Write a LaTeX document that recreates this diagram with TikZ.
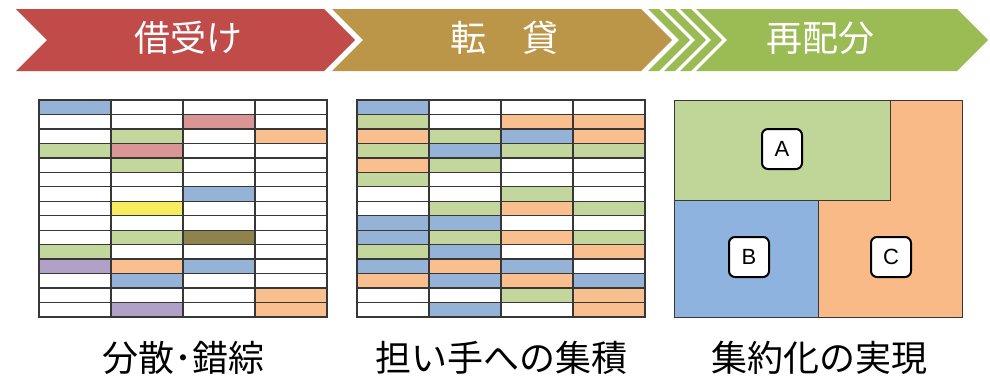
\documentclass[tikz,border=0pt]{standalone}
\usepackage{fontspec}
\newfontfamily\cjk{Noto Sans CJK JP}
\newfontfamily\lat{Liberation Sans}
\definecolor{arrRed}{RGB}{192,75,72}
\definecolor{arrGold}{RGB}{188,150,72}
\definecolor{arrGreen}{RGB}{155,187,85}
\definecolor{cB}{RGB}{149,179,215}
\definecolor{cG}{RGB}{195,214,155}
\definecolor{cR}{RGB}{218,150,148}
\definecolor{cO}{RGB}{250,191,143}
\definecolor{cY}{RGB}{247,236,94}
\definecolor{cK}{RGB}{142,131,76}
\definecolor{cP}{RGB}{177,160,199}
\definecolor{w}{RGB}{255,255,255}
\definecolor{zA}{RGB}{192,213,152}
\definecolor{zB}{RGB}{142,179,222}
\definecolor{zC}{RGB}{250,186,136}
\definecolor{gridline}{RGB}{55,55,55}
\tikzset{
  cell/.style={draw=gridline,line width=1.3pt},
  headtext/.style={text=white,font=\cjk\fontsize{36}{40}\selectfont,inner sep=0pt},
  bottext/.style={text=black,font=\cjk\fontsize{36}{40}\selectfont,inner sep=0pt},
  tag/.style={draw=black,line width=2pt,fill=white,rounded corners=6pt,minimum width=40pt,minimum height=40pt,inner sep=0pt,font=\lat\fontsize{22}{24}\selectfont},
  region/.style={draw=gridline,line width=1pt}
}
\begin{document}
\begin{tikzpicture}[x=1pt,y=-1pt]
\useasboundingbox (0,0) rectangle (990,381);
% header arrows
\fill[arrRed] (16,9) -- (324,9) -- (355,40) -- (324,71) -- (16,71) -- (47,40) -- cycle;
\fill[arrGold] (332,9) -- (641,9) -- (672,40) -- (641,71) -- (332,71) -- (363,40) -- cycle;
\foreach \x in {648,664,680}{
  \fill[arrGreen] (\x,9) -- (\x+11,9) -- (\x+42,40) -- (\x+11,71) -- (\x,71) -- (\x+31,40) -- cycle;
}
\fill[arrGreen] (696,9) -- (957,9) -- (988,40) -- (957,71) -- (696,71) -- (727,40) -- cycle;
\node[headtext] (h1) at (188,38) {借受け};
\node[headtext] (h2) at (504,38) {転　貸};
\node[headtext] (h3) at (820,38) {再配分};
% grid 1
\foreach \row [count=\r from 0] in {
  {cB,w,w,w},{w,w,cR,w},{w,cG,w,cO},{cG,cR,w,w},{w,cG,w,w},
  {w,w,w,w},{w,w,cB,w},{w,cY,w,w},{w,w,w,w},{w,cG,cK,w},
  {cG,w,w,w},{cP,cO,cB,w},{w,cB,w,w},{w,w,w,cO},{w,cP,w,cO}}{
  \foreach \c [count=\k from 0] in \row {
    \draw[cell,fill=\c] (39+\k*72,100+\r*14.467) rectangle ++(72,14.467);
  }
}
% grid 2
\foreach \row [count=\r from 0] in {
  {cB,w,w,w},{cG,w,cO,cO},{cO,cG,cB,cO},{cG,cB,cG,cG},{cO,cG,w,w},
  {cG,w,w,w},{w,w,cG,w},{w,cG,cO,cG},{cB,cB,w,w},{cB,cG,cO,cG},
  {cG,cB,w,cO},{cB,cO,cB,w},{cO,cB,cO,cB},{w,w,cG,cO},{w,cB,w,cO}}{
  \foreach \c [count=\k from 0] in \row {
    \draw[cell,fill=\c] (357+\k*72,100+\r*14.467) rectangle ++(72,14.467);
  }
}
% grid 3
\fill[zC] (674,100) rectangle (962,317);
\draw[region,fill=zA] (674,100) rectangle (890,200);
\draw[region,fill=zB] (674,200) rectangle (818,317);
\draw[region] (674,100) rectangle (962,317);
\node[tag] (tA) at (782,149) {A};
\node[tag] (tB) at (749,257) {B};
\node[tag] (tC) at (891,257) {C};
% bottom labels
\node[bottext] (b1) at (183,358) {分散･錯綜};
\node[bottext] (b2) at (501,358) {担い手への集積};
\node[bottext] (b3) at (819,358) {集約化の実現};
\end{tikzpicture}
\end{document}
